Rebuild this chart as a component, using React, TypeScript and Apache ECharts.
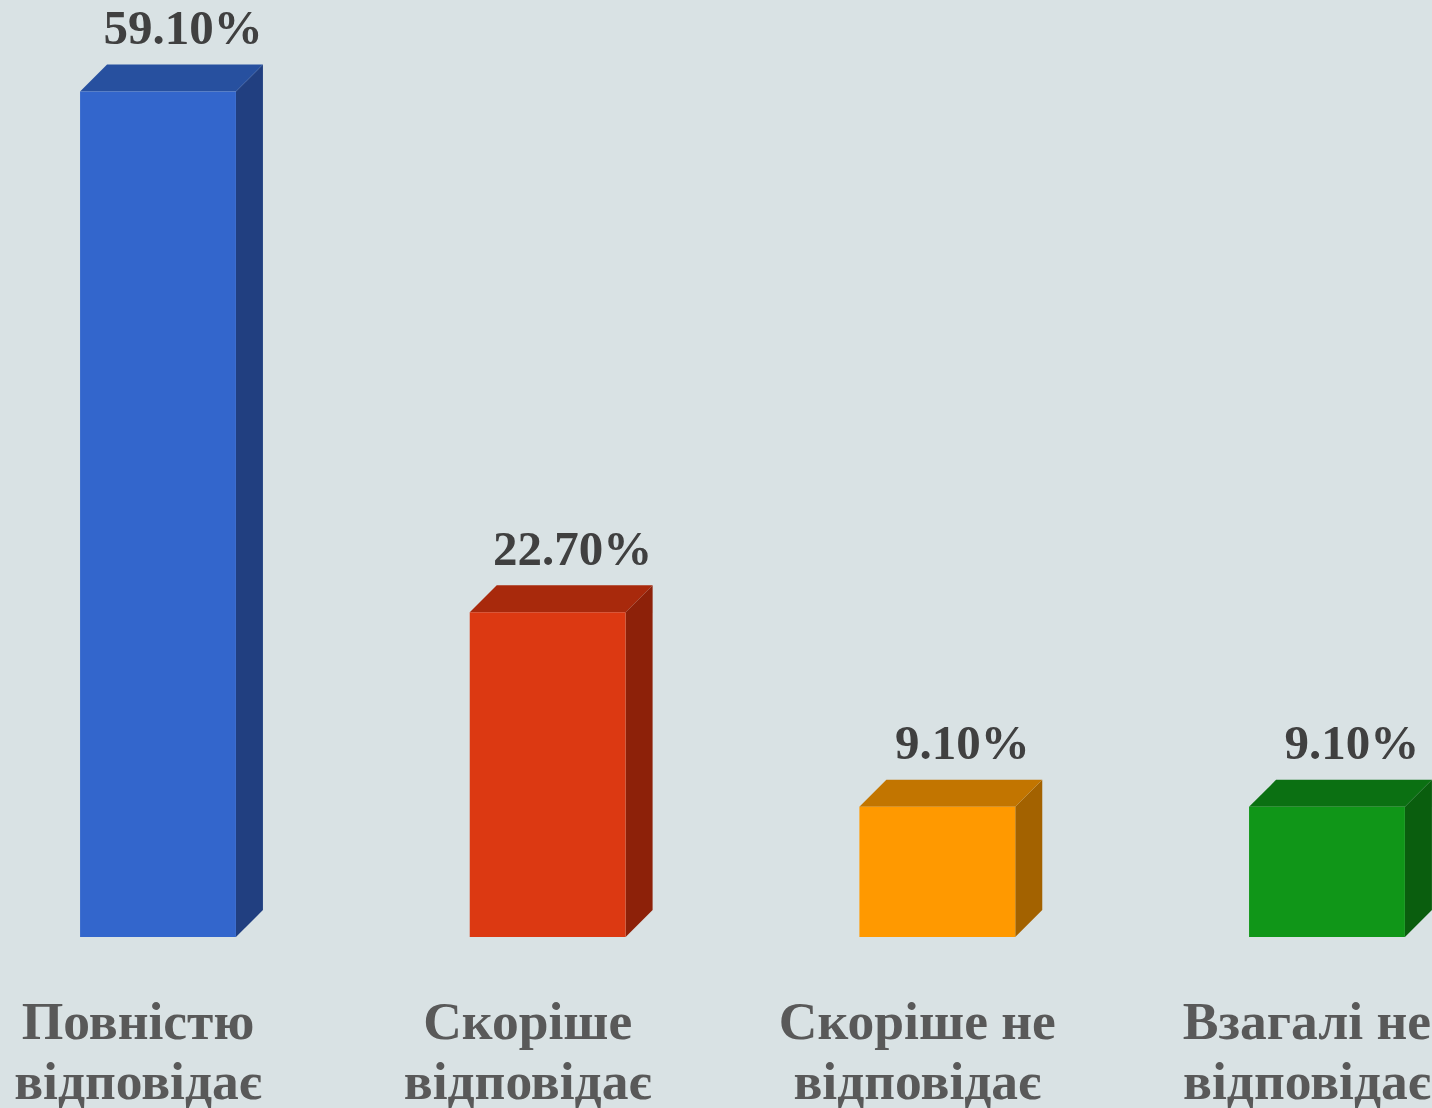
import React, { useEffect, useRef } from "react";
import * as echarts from "echarts";

const categories = ["Повністю\nвідповідає", "Скоріше\nвідповідає", "Скоріше не\nвідповідає", "Взагалі не\nвідповідає"];
const values = [59.1, 22.7, 9.1, 9.1];
const frontColors = ["#3366cc", "#dc3912", "#ff9900", "#109618"];
const topColors = ["#27509f", "#a8290c", "#c27500", "#0b7012"];
const sideColors = ["#213f80", "#8d2109", "#a36200", "#0a5e0e"];

export default function App() {
  const ref = useRef<HTMLDivElement>(null);
  useEffect(() => {
    if (!ref.current) return;
    const chart = echarts.init(ref.current, undefined, { renderer: "svg" });
    const depth = 27;
    chart.setOption({
      animation: false,
      backgroundColor: "#d9e2e4",
      grid: { left: 0, right: 0, top: 0, bottom: 171 },
      xAxis: { type: "value", min: -0.4055, max: 3.2695, show: false },
      yAxis: { type: "value", min: 0, max: 65.5, show: false },
      series: [
        {
          type: "custom",
          data: values.map((v, i) => [i, v]),
          renderItem: (params: any, api: any) => {
            const i = api.value(0);
            const v = api.value(1);
            const top = api.coord([i, v]);
            const base = api.coord([i, 0]);
            const w = api.size([0.4, 0])[0];
            const x0 = top[0] - w / 2;
            const x1 = top[0] + w / 2;
            const yT = top[1];
            const yB = base[1];
            const idx = params.dataIndex;
            return {
              type: "group",
              children: [
                {
                  type: "polygon",
                  shape: { points: [[x1, yT], [x1 + depth, yT - depth], [x1 + depth, yB - depth], [x1, yB]] },
                  style: { fill: sideColors[idx] },
                },
                {
                  type: "polygon",
                  shape: { points: [[x0, yT], [x0 + depth, yT - depth], [x1 + depth, yT - depth], [x1, yT]] },
                  style: { fill: topColors[idx] },
                },
                {
                  type: "rect",
                  shape: { x: x0, y: yT, width: w, height: yB - yT },
                  style: { fill: frontColors[idx] },
                },
                {
                  type: "text",
                  x: top[0] + 25,
                  y: yT - depth - 12.5,
                  style: {
                    text: v.toFixed(2) + "%",
                    fill: "#404040",
                    fontSize: 49,
                    fontWeight: "bold",
                    fontFamily: "Liberation Serif",
                    align: "center",
                    verticalAlign: "bottom",
                  },
                },
                {
                  type: "text",
                  x: top[0] - 20,
                  y: yB + 54,
                  style: {
                    text: categories[idx],
                    fill: "#595959",
                    fontSize: 53.5,
                    lineHeight: 60,
                    fontWeight: "bold",
                    fontFamily: "Liberation Serif",
                    align: "center",
                    verticalAlign: "top",
                  },
                },
              ],
            };
          },
        },
      ],
    });
    return () => chart.dispose();
  }, []);
  return (
    <div
      ref={ref}
      style={{ position: "fixed", left: 0, top: 0, width: 1432, height: 1108 }}
    />
  );
}
